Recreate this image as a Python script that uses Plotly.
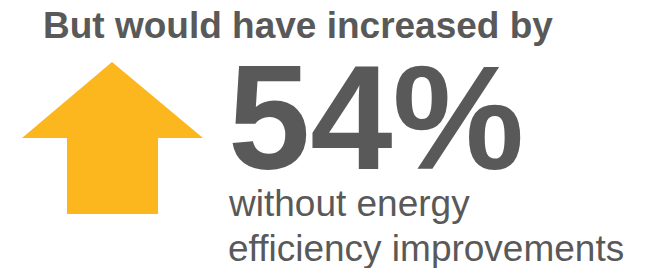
import plotly.graph_objects as go

# Data
headline = "But would have increased by"
increase_pct = 54
caption_lines = ["without energy", "efficiency improvements"]
arrow_x = [112, 203, 158, 158, 67, 67, 22, 112]
arrow_y = [62, 138, 138, 214, 214, 138, 138, 62]

W, H = 646, 268
GREY = "#595959"
GOLD = "#FDB71E"
FONT = "Liberation Sans, Arial, sans-serif"


def py(v):
    return 1 - v / H


fig = go.Figure()
fig.add_trace(go.Scatter(x=arrow_x, y=arrow_y, mode="lines", fill="toself",
                         fillcolor=GOLD, line=dict(color=GOLD, width=0),
                         hoverinfo="skip", showlegend=False))


def label(x, ybottom, text, size, weight=400):
    fig.add_annotation(x=x / W, y=py(ybottom), xref="paper", yref="paper",
                       xanchor="left", yanchor="bottom", text=text, showarrow=False,
                       font=dict(family=FONT, size=size, color=GREY, weight=weight))


label(41, 48, headline, 37, 700)
label(226, 202, f"{increase_pct}%", 148, 700)
label(226, 226, caption_lines[0], 37)
label(226, 271, caption_lines[1], 37)

fig.update_layout(width=W, height=H, margin=dict(l=0, r=0, t=0, b=0),
                  paper_bgcolor="white", plot_bgcolor="white",
                  xaxis=dict(range=[0, W], visible=False, fixedrange=True),
                  yaxis=dict(range=[H, 0], visible=False, fixedrange=True))
fig.write_html("out.html", config={"displayModeBar": False},
               post_script="document.body.style.margin='0';document.body.style.overflow='hidden';")
